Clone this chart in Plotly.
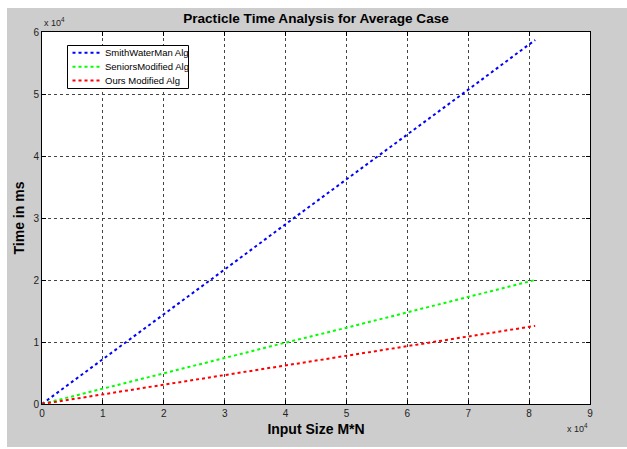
import plotly.graph_objects as go

# Data (input size M*N, time in ms)
input_size = [0, 10000, 20000, 30000, 40000, 50000, 60000, 70000, 80000, 81000]
smith_waterman = [0, 7200, 14500, 21700, 29000, 36200, 43500, 50700, 58000, 58700]
seniors_modified = [0, 2500, 4900, 7400, 9900, 12300, 14800, 17300, 19700, 20000]
ours_modified = [0, 1550, 3100, 4650, 6200, 7800, 9300, 10900, 12400, 12600]

x_ticks = [0, 10000, 20000, 30000, 40000, 50000, 60000, 70000, 80000, 90000]
x_tick_text = ["0", "1", "2", "3", "4", "5", "6", "7", "8", "9"]
y_ticks = [0, 10000, 20000, 30000, 40000, 50000, 60000]
y_tick_text = ["0", "1", "2", "3", "4", "5", "6"]

series = [
    ("SmithWaterMan Alg", smith_waterman, "#0000ff"),
    ("SeniorsModified Alg", seniors_modified, "#00ff00"),
    ("Ours Modified Alg", ours_modified, "#ff0000"),
]

fig = go.Figure()
for name, vals, col in series:
    fig.add_trace(go.Scatter(
        x=input_size, y=vals, name=name, mode="lines",
        line=dict(color=col, width=2, dash="dot"), showlegend=False,
    ))

W, H = 627, 449
L, R, T, B = 42, 590, 32, 404
gray = "#cdcdcd"
FONT = "Liberation Sans, Arial"


def px(xp):
    return (xp - L) / (R - L)


def py(yp):
    return (B - yp) / (B - T)


axis_common = dict(
    showline=True, linecolor="#000000", linewidth=1, mirror="ticks",
    ticks="inside", ticklen=4, tickcolor="#000000",
    showgrid=True, gridcolor="#444444", griddash="dot", gridwidth=1,
    zeroline=False,
    tickfont=dict(family=FONT, size=10, color="#222222"),
)

shapes = [
    dict(type="rect", xref="paper", yref="paper",
         x0=px(0), x1=px(W), y0=py(8), y1=py(-1),
         fillcolor="#ffffff", line=dict(width=0), layer="below"),
    dict(type="rect", xref="paper", yref="paper",
         x0=px(0), x1=px(7), y0=py(H + 1), y1=py(-1),
         fillcolor="#ffffff", line=dict(width=0), layer="below"),
    dict(type="rect", xref="paper", yref="paper",
         x0=px(0), x1=px(W), y0=py(H + 1), y1=py(447),
         fillcolor="#ffffff", line=dict(width=0), layer="below"),
    # legend box
    dict(type="rect", xref="paper", yref="paper",
         x0=px(67.5), x1=px(188.5), y0=py(88.5), y1=py(45.5),
         fillcolor="#ffffff", line=dict(width=1, color="#000000"), layer="above"),
]

annotations = [
    dict(text="x 10<sup>4</sup>", xref="paper", yref="paper",
         x=0, y=py(22), xanchor="left", yanchor="middle", showarrow=False,
         font=dict(family=FONT, size=9, color="#222222")),
    dict(text="x 10<sup>4</sup>", xref="paper", yref="paper",
         x=1, y=py(428), xanchor="right", yanchor="middle", showarrow=False,
         font=dict(family=FONT, size=9, color="#222222")),
]

legend_rows = [52.7, 66.8, 80.5]
for (name, vals, col), yr in zip(series, legend_rows):
    shapes.append(dict(type="line", xref="paper", yref="paper",
                       x0=px(72.5), x1=px(100), y0=py(yr), y1=py(yr),
                       line=dict(color=col, width=2, dash="dot"), layer="above"))
    annotations.append(dict(text=name, xref="paper", yref="paper",
                            x=px(103), y=py(yr), xanchor="left", yanchor="middle",
                            showarrow=False,
                            font=dict(family=FONT, size=9.5, color="#000000")))

fig.update_layout(
    width=W, height=H,
    margin=dict(l=L, r=W - R, t=T, b=H - B),
    paper_bgcolor=gray, plot_bgcolor="#ffffff",
    showlegend=False,
    title=dict(
        text="<b>Practicle Time Analysis for Average Case</b>",
        x=(L + R) / 2 / W, xanchor="center", y=1 - 18 / H, yanchor="middle",
        font=dict(family=FONT, size=13.6, color="#000000"),
    ),
    xaxis=dict(
        range=[0, 90000], tickvals=x_ticks, ticktext=x_tick_text,
        title=dict(text="<b>Input Size M*N</b>", standoff=6,
                   font=dict(family=FONT, size=14, color="#000000")),
        **axis_common,
    ),
    yaxis=dict(
        range=[0, 60000], tickvals=y_ticks, ticktext=y_tick_text,
        title=dict(text="<b>Time in ms</b>", standoff=5,
                   font=dict(family=FONT, size=14, color="#000000")),
        **axis_common,
    ),
    shapes=shapes,
    annotations=annotations,
)

fig.write_html("out.html")
